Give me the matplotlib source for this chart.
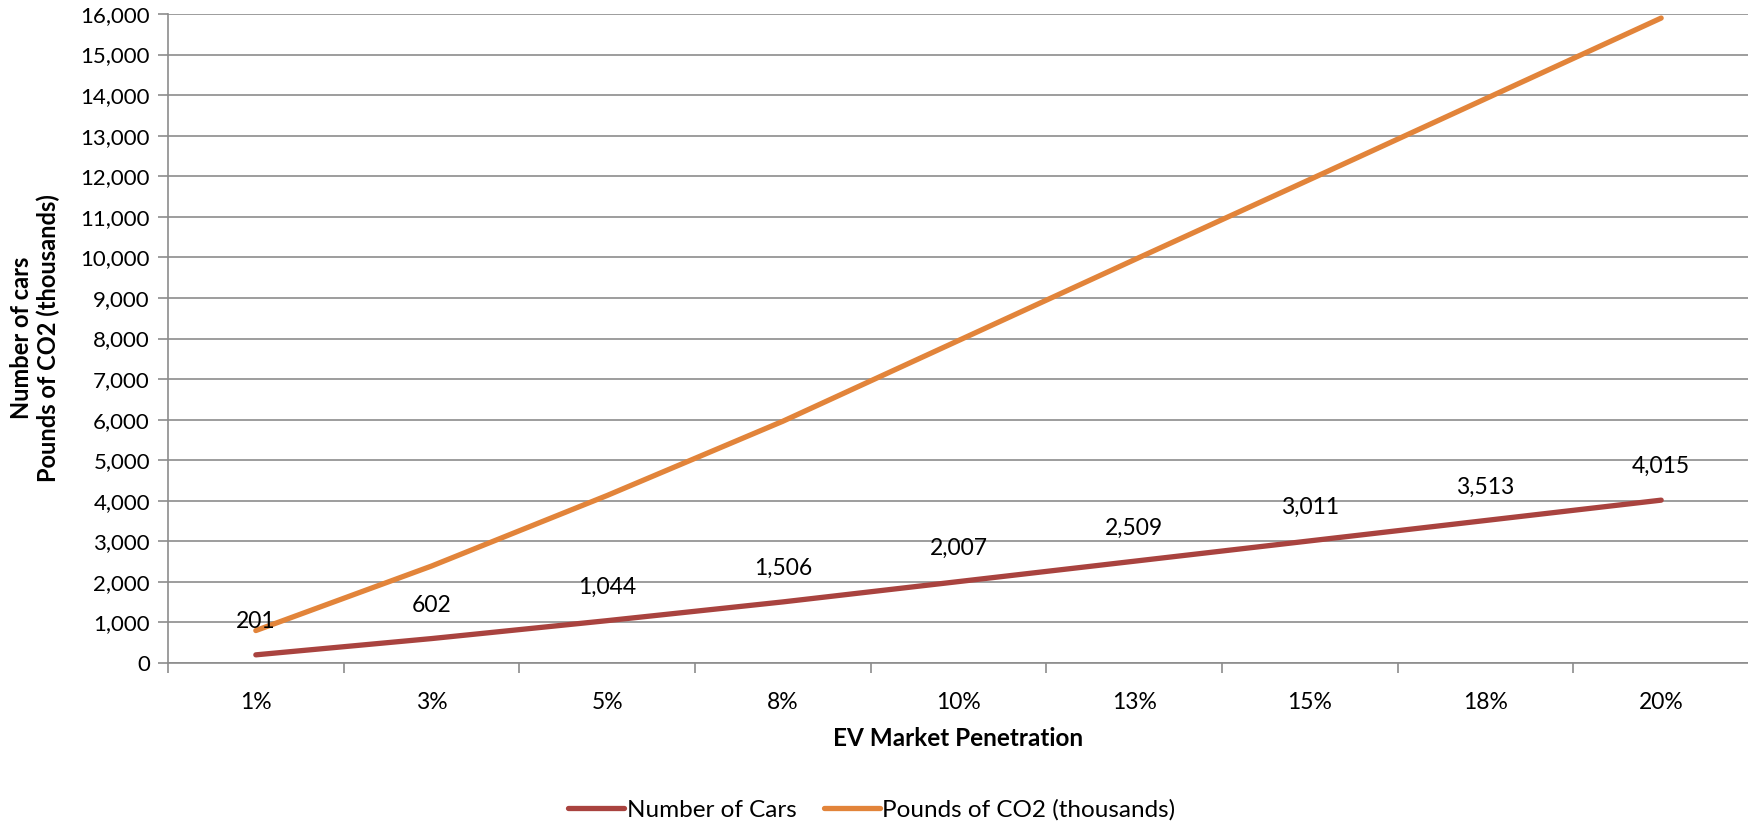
import numpy as np
import matplotlib.pyplot as plt
from matplotlib.ticker import FuncFormatter, MultipleLocator

plt.rcParams['font.family'] = ['Lato', 'DejaVu Sans']

penetration = ['1%', '3%', '5%', '8%', '10%', '13%', '15%', '18%', '20%']
num_cars = [201, 602, 1044, 1506, 2007, 2509, 3011, 3513, 4015]
co2_thousands = [800, 2390, 4130, 5960, 7950, 9940, 11920, 13910, 15900]

red = '#A9433F'
orange = '#E2843A'
grid_col = '#8C8C8C'

W, H = 1749, 825
fig = plt.figure(figsize=(W / 100, H / 100), dpi=100)
ax = fig.add_axes([168 / W, (H - 663) / H, (W - 168) / W, (663 - 14) / H])

x = np.arange(len(penetration))
ax.plot(x, num_cars, color=red, lw=3.8, solid_capstyle='round', label='Number of Cars', zorder=3)
ax.plot(x, co2_thousands, color=orange, lw=3.8, solid_capstyle='round',
        label='Pounds of CO2 (thousands)', zorder=3)

# value labels above the car counts
for xi, v in zip(x, num_cars):
    ax.annotate(f'{v:,}', (xi, v), xytext=(0, 24), textcoords='offset points',
                ha='center', va='center', fontsize=16.5)

ax.set_xlim(-0.5, len(penetration) - 0.5)
ax.set_ylim(0, 16000)
ax.yaxis.set_major_locator(MultipleLocator(1000))
ax.yaxis.set_major_formatter(FuncFormatter(lambda v, p: f'{int(v):,}'))
ax.set_xticks(x)
ax.set_xticklabels(penetration)
ax.set_xticks(np.arange(-0.5, len(penetration)), minor=True)
ax.tick_params(axis='x', which='major', length=0, pad=21, labelsize=16.5)
ax.tick_params(axis='x', which='minor', length=7, color=grid_col, width=1.2)
ax.tick_params(axis='y', length=7, color=grid_col, width=1.2, pad=6, labelsize=16)

ax.grid(axis='y', color=grid_col, lw=1.2)
ax.set_axisbelow(True)
for s in ['top', 'right']:
    ax.spines[s].set_visible(False)
for s in ['left', 'bottom']:
    ax.spines[s].set_color(grid_col)
    ax.spines[s].set_linewidth(1.2)

fig.text(958 / W, 1 - 738 / H, 'EV Market Penetration', ha='center', va='center',
         fontsize=17.5, fontweight='bold')
fig.text(35 / W, 1 - 338 / H, 'Number of cars\nPounds of CO2 (thousands)', rotation=90,
         ha='center', va='center', fontsize=17, fontweight='bold', linespacing=1.15)

fig.legend(loc='center', bbox_to_anchor=(872 / W, 1 - 810 / H), ncol=2, frameon=False,
           fontsize=17.5, handlelength=2.3, handletextpad=0.12, columnspacing=1.1)

fig.savefig('out.png', dpi=100)
